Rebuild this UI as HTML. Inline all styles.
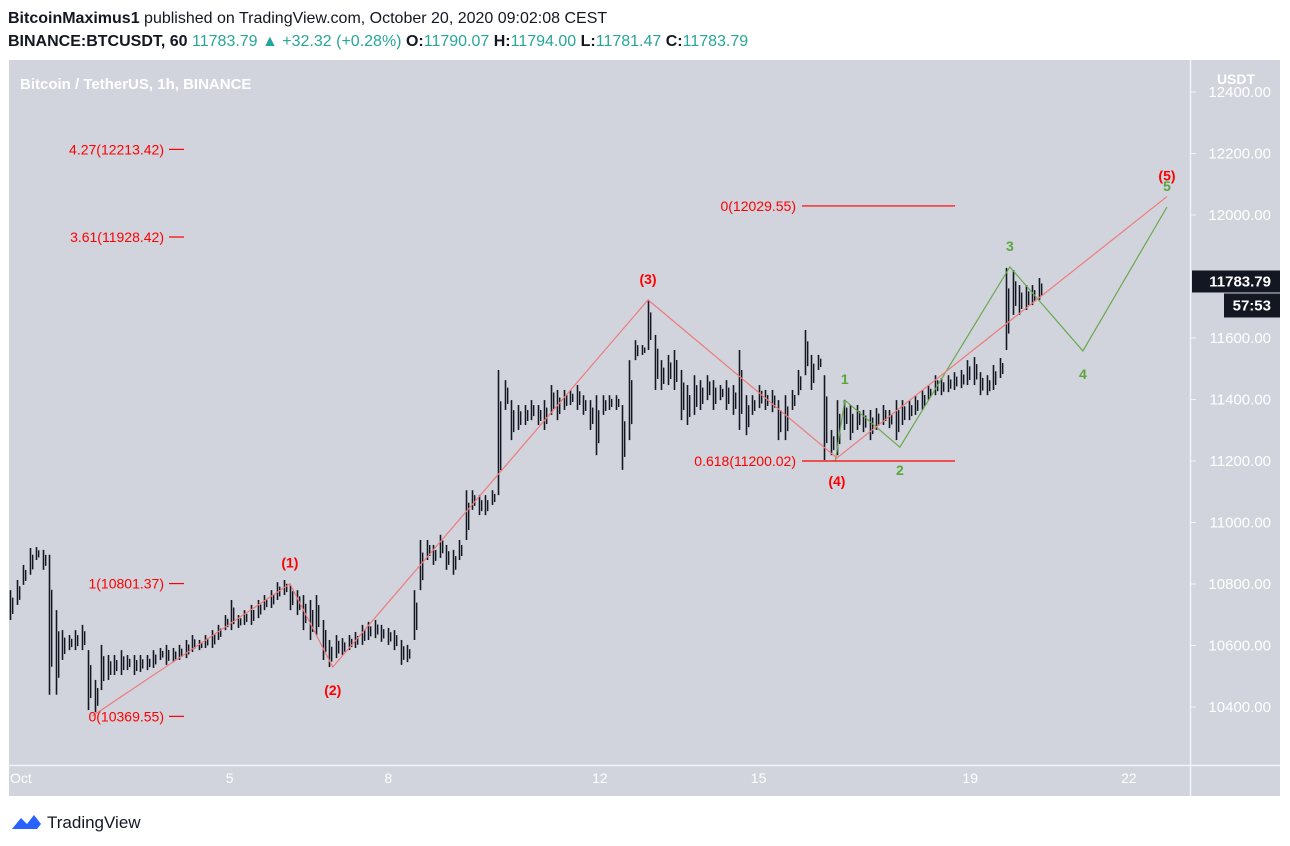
<!DOCTYPE html>
<html><head><meta charset="utf-8"><style>
body{margin:0;background:#fff;font-family:"Liberation Sans",sans-serif;}
svg{display:block}
</style></head><body>
<svg id="c" width="1290" height="846" xmlns="http://www.w3.org/2000/svg">
<rect x="0" y="0" width="1290" height="846" fill="#fff"/>
<text x="8" y="23" font-size="16" fill="#131722"><tspan font-weight="bold">BitcoinMaximus1</tspan> published on TradingView.com, October 20, 2020 09:02:08 CEST</text>
<text x="8" y="46" font-size="16" fill="#131722"><tspan font-weight="bold">BINANCE:BTCUSDT, 60</tspan>  <tspan fill="#26a69a">11783.79 ▲ +32.32 (+0.28%)</tspan> <tspan font-weight="bold">O:</tspan><tspan fill="#26a69a">11790.07</tspan> <tspan font-weight="bold">H:</tspan><tspan fill="#26a69a">11794.00</tspan> <tspan font-weight="bold">L:</tspan><tspan fill="#26a69a">11781.47</tspan> <tspan font-weight="bold">C:</tspan><tspan fill="#26a69a">11783.79</tspan></text>
<rect x="9" y="60" width="1271" height="736" fill="#d1d4dc"/>
<line x1="1190.5" y1="60" x2="1190.5" y2="796" stroke="#f0f3fa" stroke-width="1.5"/>
<line x1="9" y1="765.5" x2="1280" y2="765.5" stroke="#f0f3fa" stroke-width="1.5"/>
<text x="20" y="89" font-size="15" font-weight="bold" fill="#fff">Bitcoin / TetherUS, 1h, BINANCE</text>
<g id="bars"></g>
<g id="ov"></g>
<g id="yax"></g>
<g id="xax"></g>
<rect x="1212" y="68" width="48" height="18" fill="#d1d4dc"/>
<text x="1236" y="84" font-size="14" font-weight="bold" fill="#fff" text-anchor="middle">USDT</text>
<g>
<path d="M12 829 l9 -11 l6 6 l7 -9 l7 9 l-4 5 z" fill="#2962ff"/>
<text x="47" y="828" font-size="17" fill="#131722">TradingView</text>
</g>
</svg>
<script>
const barStartDay = 0.85, barEndDay = 20.3;
const highs = [10780,10813,10862,10917,10920,10911,10895,10715,10650,10634,10650,10667,10585,10488,10602,10569,10569,10585,10569,10569,10569,10569,10585,10592,10602,10592,10602,10618,10634,10618,10634,10650,10667,10699,10748,10699,10715,10732,10748,10764,10780,10806,10813,10797,10780,10764,10748,10764,10683,10618,10634,10624,10634,10644,10667,10677,10683,10667,10657,10650,10618,10602,10780,10943,10943,10927,10960,10927,10911,10943,11105,11105,11089,11089,11105,11496,11463,11398,11382,11382,11398,11382,11398,11447,11431,11431,11431,11447,11414,11398,11414,11414,11414,11414,11382,11528,11593,11577,11724,11610,11528,11545,11561,11496,11447,11479,11463,11479,11463,11447,11463,11447,11561,11414,11414,11447,11431,11431,11398,11414,11431,11496,11626,11545,11545,11479,11301,11398,11398,11382,11382,11366,11366,11372,11382,11366,11398,11398,11398,11414,11431,11447,11479,11470,11479,11489,11496,11528,11538,11489,11479,11512,11535,11828,11821,11772,11772,11772,11795];
const lows = [10683,10732,10797,10830,10878,10846,10440,10440,10553,10585,10585,10585,10390,10383,10455,10488,10504,10504,10520,10504,10514,10520,10527,10553,10537,10546,10553,10559,10579,10585,10592,10592,10618,10650,10650,10657,10667,10667,10689,10715,10722,10748,10764,10715,10699,10650,10618,10634,10553,10530,10559,10569,10585,10592,10602,10618,10624,10612,10602,10585,10537,10546,10618,10780,10878,10862,10885,10846,10830,10878,10943,11041,11024,11024,11057,11089,11366,11268,11301,11317,11333,11317,11301,11350,11333,11366,11382,11366,11350,11301,11219,11350,11366,11366,11171,11268,11528,11545,11561,11431,11431,11447,11431,11333,11317,11350,11366,11398,11366,11398,11366,11350,11301,11284,11350,11372,11366,11359,11268,11268,11366,11414,11479,11431,11496,11203,11219,11219,11301,11268,11301,11294,11268,11301,11317,11307,11268,11317,11333,11350,11366,11398,11414,11414,11424,11431,11437,11447,11447,11414,11414,11431,11470,11561,11675,11675,11691,11707,11724];
const redWaveDays = [2.40, 6.14, 6.95, 12.91, 16.48, 22.72];
const redWavePrices = [10370, 10801, 10530, 11724, 11210, 12060];
const redWaveLabels = ["", "(1)", "(2)", "(3)", "(4)", "(5)"];
const greenWaveDays = [16.45, 16.63, 17.67, 19.75, 21.13, 22.72];
const greenWavePrices = [11200, 11398, 11245, 11831, 11558, 12026];
const greenWaveLabels = ["", "1", "2", "3", "4", "5"];
const fibLeftLabels = ["4.27(12213.42)", "3.61(11928.42)", "1(10801.37)", "0(10369.55)"];
const fibLeftPrices = [12213.42, 11928.42, 10801.37, 10369.55];
const fibRightLabels = ["0(12029.55)", "0.618(11200.02)"];
const fibRightPrices = [12029.55, 11200.02];
const priceTicks = [12400, 12200, 12000, 11600, 11400, 11200, 11000, 10800, 10600, 10400];
const timeTickDays = [1, 5, 8, 12, 15, 19, 22];
const timeTickLabels = ["Oct", "5", "8", "12", "15", "19", "22"];
const lastPrice = 11783.79;

const NS = "http://www.w3.org/2000/svg";
const yOf = p => 215 + (12000 - p) * 0.3075;
const xOf = d => 18 + (d - 1) * 52.9;
function mk(tag, attrs, parent, txt){const e=document.createElementNS(NS,tag);for(const k in attrs)e.setAttribute(k,attrs[k]);if(txt!==undefined)e.textContent=txt;parent.appendChild(e);return e;}

const bars = document.getElementById('bars');
const barStepDay = (barEndDay - barStartDay) / (highs.length - 1);
for (let i = 0; i < highs.length; i++) {
  const x = Math.round(xOf(barStartDay + i * barStepDay)) + 0.5;
  const l = mk('line', {x1:x, x2:x, y1:yOf(highs[i]), y2:yOf(lows[i]), stroke:'#131722', 'stroke-width':1.6}, bars);
  
  
  const x2 = x + 2.2;
  const l2 = mk('line', {x1:x2, x2:x2, y1:yOf(highs[i]) + (yOf(lows[i]) - yOf(highs[i])) * 0.25, y2:yOf(lows[i]) - (yOf(lows[i]) - yOf(highs[i])) * 0.2, stroke:'#131722', 'stroke-width':1.4}, bars);
  
  
}

const ov = document.getElementById('ov');
function wave(days, prices, labels, color, lblColor, name, above) {
  const pts = days.map((d, i) => xOf(d) + ',' + yOf(prices[i])).join(' ');
  const pl = mk('polyline', {points:pts, fill:'none', stroke:color, 'stroke-width':1.2}, ov);
  
  
  for (let i = 1; i < days.length; i++) {
    const up = above[i];
    const t = mk('text', {x:xOf(days[i]), y:yOf(prices[i]) + (up ? -16 : 28), 'font-size':14, 'font-weight':'bold', fill:lblColor, 'text-anchor':'middle'}, ov, labels[i]);
    
    
  }
}
wave(greenWaveDays, greenWavePrices, greenWaveLabels, '#6aa84f', '#5aa63c', 'green-wave', [0,1,0,1,0,1]);
wave(redWaveDays, redWavePrices, redWaveLabels, '#ef7b7b', '#ff0000', 'red-wave', [0,1,0,1,0,1]);

fibLeftPrices.forEach((p, i) => {
  const y = yOf(p);
  const t = mk('text', {x:164, y:y + 5, 'font-size':14, fill:'#ff0000', 'text-anchor':'end'}, ov, fibLeftLabels[i]);
  
  
  mk('line', {x1:169, x2:184, y1:y, y2:y, stroke:'#ff0000', 'stroke-width':1.2}, ov);
});
fibRightPrices.forEach((p, i) => {
  const y = yOf(p);
  const t = mk('text', {x:796, y:y + 5, 'font-size':14, fill:'#ff0000', 'text-anchor':'end'}, ov, fibRightLabels[i]);
  
  
  const l = mk('line', {x1:802, x2:955, y1:y, y2:y, stroke:'#ff0000', 'stroke-width':1.2}, ov);
  
  
});

const yax = document.getElementById('yax');
priceTicks.forEach(p => {
  const y = yOf(p);
  mk('line', {x1:1191, x2:1196, y1:y, y2:y, stroke:'#f0f3fa', 'stroke-width':1}, yax);
  const t = mk('text', {x:1271, y:y + 5, 'font-size':15, fill:'#fff', 'text-anchor':'end'}, yax, p.toFixed(2));
  
  
});
const yl = yOf(lastPrice);
mk('rect', {x:1192, y:yl - 11, width:88, height:22, fill:'#131722'}, yax);
const lp = mk('text', {x:1271, y:yl + 5, 'font-size':15, 'font-weight':'bold', fill:'#fff', 'text-anchor':'end'}, yax, lastPrice.toFixed(2));


mk('rect', {x:1224, y:yl + 12, width:56, height:24, fill:'#131722'}, yax);
const tm = mk('text', {x:1271, y:yl + 29, 'font-size':15, 'font-weight':'bold', fill:'#fff', 'text-anchor':'end'}, yax, '57:53');



const xax = document.getElementById('xax');
timeTickDays.forEach((d, i) => {
  const t = mk('text', {x:xOf(d) - (i === 0 ? 8 : 0), y:783, 'font-size':14, fill:'#fff', 'text-anchor':i === 0 ? 'start' : 'middle'}, xax, timeTickLabels[i]);
  
  
});
</script>
</body></html>
